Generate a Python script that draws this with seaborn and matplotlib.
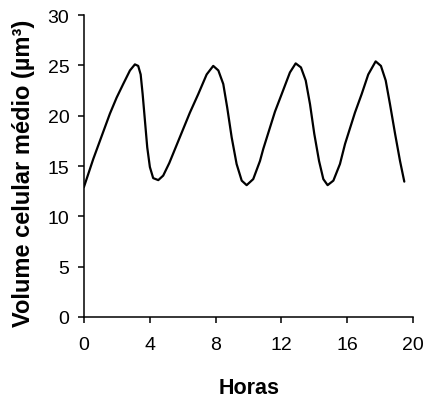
import pandas as pd
import seaborn as sns
import matplotlib.pyplot as plt

# valores (horas, volume celular médio)
horas = [0.0, 0.57, 1.58, 1.99, 2.39, 2.80, 3.10, 3.30, 3.45, 3.57,
         3.71, 3.85, 4.01, 4.21, 4.52, 4.82, 5.19, 5.84, 6.44, 6.95, 7.46,
         7.86, 8.17, 8.47, 8.71, 8.98, 9.28, 9.59, 9.89, 10.29, 10.70, 10.90,
         11.61, 12.02, 12.52, 12.87, 13.19, 13.48, 13.74, 14.00, 14.29,
         14.55, 14.81, 15.16, 15.56, 15.87, 16.47, 16.88, 17.28, 17.73,
         18.05, 18.34, 18.60, 18.91, 19.21, 19.47]
volume = [12.9, 15.7, 20.2, 21.8, 23.15, 24.5, 25.1, 24.95, 24.1, 22.15,
          19.5, 16.85, 14.9, 13.8, 13.6, 14.05, 15.3, 17.9, 20.3, 22.15, 24.1,
          24.95, 24.5, 23.15, 20.8, 17.85, 15.2, 13.55, 13.1, 13.7, 15.5, 16.7,
          20.4, 22.15, 24.3, 25.2, 24.8, 23.5, 21.15, 18.2, 15.5,
          13.7, 13.1, 13.55, 15.2, 17.2, 20.3, 22.15, 24.1, 25.4,
          24.95, 23.5, 21.15, 18.2, 15.5, 13.45]

x_ticks = [0, 4, 8, 12, 16, 20]
y_ticks = [0, 5, 10, 15, 20, 25, 30]

df = pd.DataFrame({"Horas": horas, "Volume": volume})

sns.set_style("ticks")
plt.rcParams['font.family'] = ['Liberation Sans', 'DejaVu Sans']
plt.rcParams['text.color'] = 'black'
plt.rcParams['axes.labelcolor'] = 'black'

fig = plt.figure(figsize=(4.28, 4.02), dpi=100)
ax = fig.add_axes([0.196, 0.209, 0.769, 0.751])

sns.lineplot(data=df, x="Horas", y="Volume", color="black", linewidth=1.6,
             ax=ax, sort=False)

ax.set_xlim(0, 20)
ax.set_ylim(0, 30)
ax.set_xticks(x_ticks)
ax.set_yticks(y_ticks)
ax.tick_params(axis="both", labelsize=14, length=4.5, width=1.1,
               color="black", labelcolor="black")
ax.tick_params(axis="x", pad=9)
ax.tick_params(axis="y", pad=6)
for side in ["left", "bottom"]:
    ax.spines[side].set_color("black")
    ax.spines[side].set_linewidth(1.1)
sns.despine(ax=ax)

ax.set_xlabel("Horas", fontsize=15.5, fontweight="bold")
ax.set_ylabel("Volume celular médio (µm³)", fontsize=17, fontweight="bold")
ax.xaxis.set_label_coords(0.503, -0.20)
ax.yaxis.set_label_coords(-0.15, 0.48)

fig.savefig("out.png", dpi=100)
